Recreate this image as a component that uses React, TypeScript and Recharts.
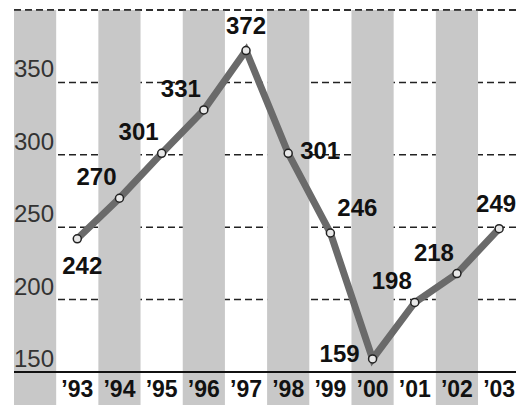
import {
  ComposedChart,
  Line,
  XAxis,
  YAxis,
  CartesianGrid,
  ReferenceArea,
  ReferenceLine,
  LabelList
} from 'recharts';

const years = [93, 94, 95, 96, 97, 98, 99, 100, 101, 102, 103];
const yearLabels = ["’93", "’94", "’95", "’96", "’97", "’98", "’99", "’00", "’01", "’02", "’03"];
const values = [242, 270, 301, 331, 372, 301, 246, 159, 198, 218, 249];
const stripeYears = [92, 94, 96, 98, 100, 102];
const yTicks = [150, 200, 250, 300, 350, 400];

// where each value label sits relative to its point
const labelSide = ['below', 'upLeft', 'upLeft', 'upLeft', 'above', 'right', 'upRight', 'left', 'upLeft', 'upLeft', 'aboveEdge'];
const sideOffset: Record<string, [number, number]> = {
  below: [5, 27],
  upLeft: [-23, -21],
  above: [0, -25],
  aboveEdge: [-3, -25],
  right: [32, -2],
  upRight: [27, -25],
  left: [-33, -5]
};

const data = years.map((x, i) => ({ x, value: values[i], label: yearLabels[i] }));

const FONT = '"Liberation Sans", Arial, sans-serif';

const XTick = (props: any) => {
  const { x, y, payload } = props;
  const i = years.indexOf(payload.value);
  return (
    <text x={x} y={y + 25} textAnchor="middle" fontFamily={FONT} fontSize={23} fontWeight="bold" fill="#111">
      {yearLabels[i]}
    </text>
  );
};

const YTick = (props: any) => {
  const { y, payload } = props;
  if (payload.value === 400) return <g />;
  return (
    <text x={14} y={y - 5} textAnchor="start" fontFamily={FONT} fontSize={24} fill="#333">
      {payload.value}
    </text>
  );
};

const ValueLabel = (props: any) => {
  const { x, y, value, index } = props;
  const [dx, dy] = sideOffset[labelSide[index]];
  return (
    <text x={x + dx} y={y + dy + 8} textAnchor="middle" fontFamily={FONT} fontSize={24} fontWeight="bold" fill="#111">
      {value}
    </text>
  );
};

export default function App() {
  return (
    <div style={{ position: 'absolute', left: 0, top: 0, width: 516, height: 405, background: '#fff', overflow: 'hidden' }}>
      <ComposedChart width={516} height={405} data={data} margin={{ top: 10, right: 0, left: 13, bottom: 0 }}>
        {stripeYears.map((s) => (
          <ReferenceArea
            key={s}
            x1={s - 0.5}
            x2={s + 0.5}
            y1={127}
            y2={400}
            ifOverflow="visible"
            fill="#c8c8c8"
            fillOpacity={1}
            stroke="none"
          />
        ))}
        <CartesianGrid vertical={false} stroke="#222" strokeWidth={1.5} strokeDasharray="7 4" />
        <ReferenceLine y={400} stroke="#222" strokeWidth={1.5} strokeDasharray="7 4" />
        <XAxis
          type="number"
          dataKey="x"
          domain={[91.5, 103.4]}
          ticks={years}
          allowDataOverflow
          height={33}
          axisLine={{ stroke: '#111', strokeWidth: 2 }}
          tickLine={false}
          tickSize={0}
          tickMargin={0}
          tick={<XTick />}
        />
        <YAxis
          domain={[150, 400]}
          ticks={yTicks}
          allowDataOverflow
          width={1}
          axisLine={false}
          tickLine={false}
          tick={<YTick />}
        />
        <Line
          dataKey="value"
          stroke="#6a6a6a"
          strokeWidth={7}
          dot={{ r: 4, fill: '#e8e8e8', stroke: '#222', strokeWidth: 1.5 }}
          isAnimationActive={false}
        >
          <LabelList dataKey="value" content={<ValueLabel />} />
        </Line>
      </ComposedChart>
    </div>
  );
}
